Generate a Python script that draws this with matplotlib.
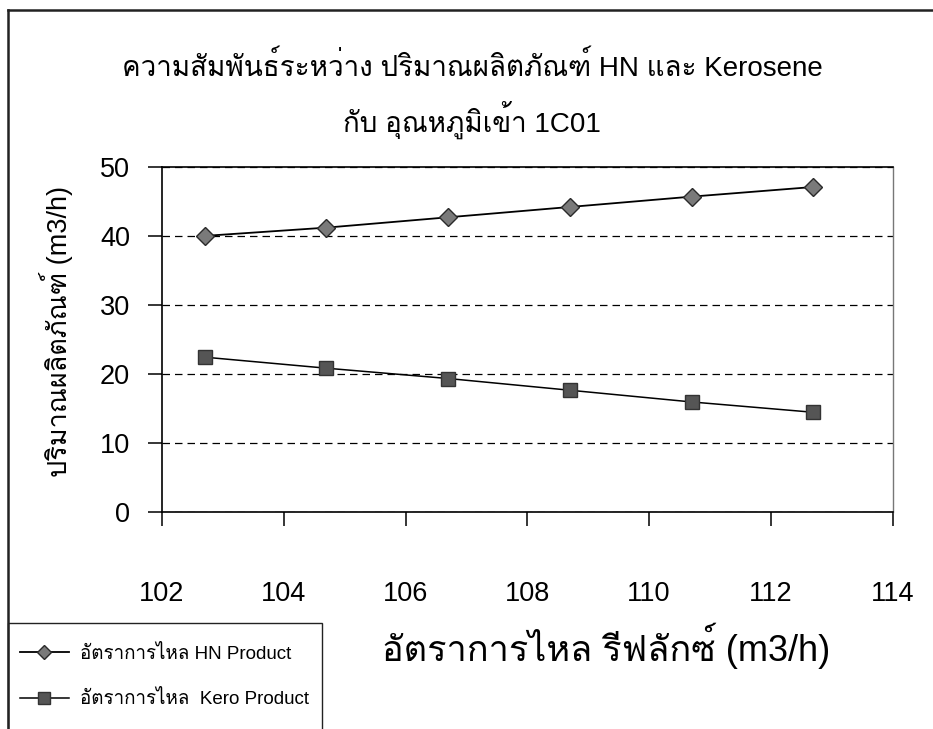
import matplotlib
matplotlib.use("Agg")
import matplotlib.pyplot as plt
from matplotlib.lines import Line2D
from matplotlib.patches import Rectangle

# Latin text in an Arial-like face, Thai glyphs fall back to Loma
plt.rcParams['font.family'] = ['Liberation Sans', 'Loma']

# reflux flow (m3/h) and product flows (m3/h)
reflux = [102.7, 104.7, 106.7, 108.7, 110.7, 112.7]
hn_product = [40.0, 41.2, 42.7, 44.2, 45.7, 47.1]
kero_product = [22.4, 20.8, 19.3, 17.6, 15.9, 14.4]

x_ticks = [102, 104, 106, 108, 110, 112, 114]
y_ticks = [0, 10, 20, 30, 40, 50]

W, H = 933, 729
fig = plt.figure(figsize=(W / 100, H / 100), dpi=100)
ax = fig.add_axes([162 / W, 1 - 511.5 / H, (892.5 - 162) / W, (511.5 - 167) / H])

ax.plot(reflux, hn_product, color='black', lw=1.3, marker='D', ms=9,
        mfc='#7a7a7a', mec='#2a2a2a', mew=1, label='อัตราการไหล HN Product')
ax.plot(reflux, kero_product, color='black', lw=1.1, marker='s', ms=10,
        mfc='#555555', mec='#333333', mew=1, label='อัตราการไหล  Kero Product')

ax.set_xlim(102, 114)
ax.set_ylim(0, 50)
ax.set_xticks(x_ticks)
ax.set_yticks(y_ticks)

# dashed horizontal grid
ax.yaxis.grid(True, linestyle=(0, (6, 4)), color='black', lw=0.9)
ax.set_axisbelow(True)

for s in ['left', 'bottom', 'top']:
    ax.spines[s].set_color('black')
    ax.spines[s].set_linewidth(1.2)
ax.spines['right'].set_color('#777777')
ax.spines['right'].set_linewidth(1.0)

ax.tick_params(direction='out', length=10, width=1.1, labelsize=19.5, colors='black')
ax.tick_params(axis='x', pad=40)
ax.tick_params(axis='y', pad=13)

ax.set_xlabel('อัตราการไหล รีฟลักซ์ (m3/h)', fontsize=26, va='center')
ax.xaxis.set_label_coords((606 - 162) / 730.5, (511.5 - 646) / 344.5)
ax.set_ylabel('ปริมาณผลิตภัณฑ์ (m3/h)', fontsize=19.5, va='center')
ax.yaxis.set_label_coords((56 - 162) / 730.5, (511.5 - 332) / 344.5)

# two-line title
fig.text(472 / W, 1 - 67 / H, 'ความสัมพันธ์ระหว่าง ปริมาณผลิตภัณฑ์ HN และ Kerosene',
         ha='center', va='center', fontsize=20)
fig.text(472 / W, 1 - 120 / H, 'กับ อุณหภูมิเข้า 1C01',
         ha='center', va='center', fontsize=20)

# legend in the lower-left corner, box drawn separately
ax.legend(loc='upper left', bbox_to_anchor=(20 / W, 1 - 645 / H),
          bbox_transform=fig.transFigure, frameon=False, fontsize=13.5,
          handlelength=2.6, handletextpad=0.6, labelspacing=1.45,
          borderpad=0, borderaxespad=0, markerscale=0.8)
fig.add_artist(Rectangle((8 / W, -0.02), (322 - 8) / W, (H - 623) / H + 0.02,
                         transform=fig.transFigure, fill=False, ec='#222222', lw=1.0))

# outer chart border (top and left edges)
fig.add_artist(Line2D([8 / W, 1], [1 - 10 / H] * 2, transform=fig.transFigure,
                      color='#222222', lw=1.8))
fig.add_artist(Line2D([8 / W] * 2, [0, 1 - 10 / H], transform=fig.transFigure,
                      color='#222222', lw=1.8))

fig.savefig('out.png', dpi=100)
